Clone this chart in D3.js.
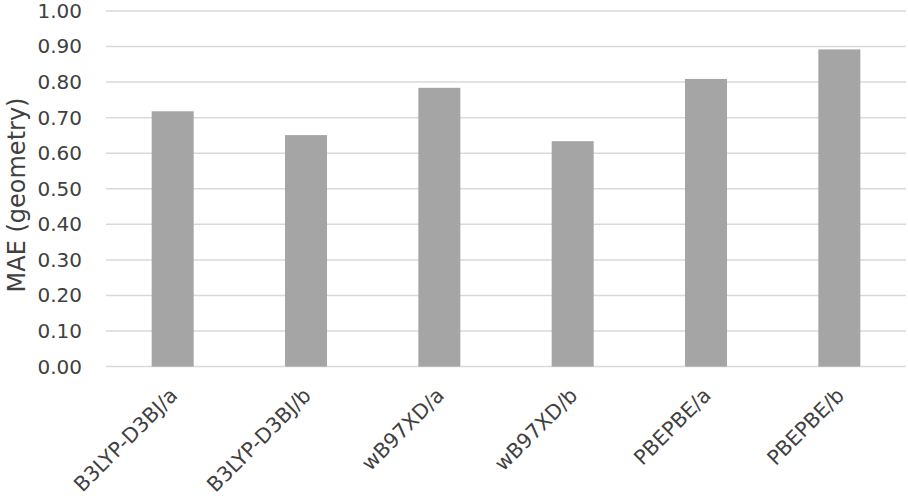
<!DOCTYPE html>
<html lang="en">
  <head>
    <meta charset="UTF-8" />
    <script src="https://d3js.org/d3.v7.min.js"></script>
    <title>MAE (geometry)</title>
    <style>
      body { margin: 0; background: #fff; }
      text { font-family: "DejaVu Sans", sans-serif; fill: #404040; }
    </style>
  </head>
  <body>
    <script>
      // data
      const methods = ["B3LYP-D3BJ/a", "B3LYP-D3BJ/b", "wB97XD/a", "wB97XD/b", "PBEPBE/a", "PBEPBE/b"];
      const mae = [0.718, 0.651, 0.784, 0.634, 0.809, 0.892];
      const yTicks = [0, 0.1, 0.2, 0.3, 0.4, 0.5, 0.6, 0.7, 0.8, 0.9, 1.0];

      const width = 908, height = 500;
      const plotLeft = 106, plotRight = 906, plotTop = 11, plotBottom = 366.6;

      const svg = d3.select("body")
        .append("svg")
        .attr("width", width)
        .attr("height", height);

      const scaleX = d3.scaleBand()
        .domain(methods)
        .range([plotLeft, plotRight])
        .paddingInner(0.685)
        .paddingOuter(0.3425);

      const scaleY = d3.scaleLinear()
        .domain([0, 1])
        .range([plotBottom, plotTop]);

      // gridlines
      svg.append("g")
        .selectAll("line")
        .data(yTicks)
        .join("line")
        .attr("x1", plotLeft)
        .attr("x2", plotRight)
        .attr("y1", (d) => scaleY(d))
        .attr("y2", (d) => scaleY(d))
        .attr("stroke", "#d9d9d9")
        .attr("stroke-width", 1.5);

      svg.append("g")
        .selectAll("rect")
        .data(mae)
        .join("rect")
        .attr("x", (d, i) => scaleX(methods[i]))
        .attr("y", (d) => scaleY(d))
        .attr("width", scaleX.bandwidth())
        .attr("height", (d) => scaleY(0) - scaleY(d))
        .attr("fill", "#a5a5a5");

      // y axis: labels only
      const axisY = d3.axisLeft(scaleY)
        .tickValues(yTicks)
        .tickSize(0)
        .tickPadding(24)
        .tickFormat(d3.format(".2f"));
      const gy = svg.append("g").attr("transform", `translate(${plotLeft},0)`);
      axisY(gy);
      gy.select(".domain").remove();
      gy.selectAll("text")
        .attr("font-family", "DejaVu Sans")
        .attr("font-size", 20)
        .attr("fill", "#404040");

      // x axis labels, rotated
      svg.append("g")
        .selectAll("text")
        .data(methods)
        .join("text")
        .attr("transform", (d) => `translate(${scaleX(d) + scaleX.bandwidth() / 2 + 1},${plotBottom + 25}) rotate(-45)`)
        .attr("text-anchor", "end")
        .attr("dy", "0.35em")
        .attr("font-size", 20.5)
        .text((d) => d);

      svg.append("text")
        .attr("transform", `translate(25,195) rotate(-90)`)
        .attr("text-anchor", "middle")
        .attr("font-size", 24)
        .text("MAE (geometry)");
    </script>
  </body>
</html>
